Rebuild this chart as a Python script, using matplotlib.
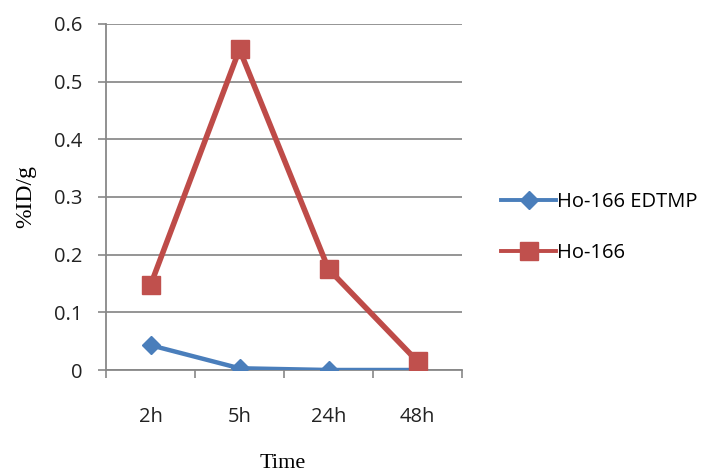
import matplotlib
matplotlib.use("Agg")
import matplotlib.pyplot as plt
from matplotlib.ticker import FixedLocator

categories = ["2h", "5h", "24h", "48h"]
edtmp = [0.043, 0.003, 0.0, 0.0]
ho166 = [0.147, 0.556, 0.175, 0.015]
series_names = ["Ho-166 EDTMP", "Ho-166"]
yticks = [0, 0.1, 0.2, 0.3, 0.4, 0.5, 0.6]
yticklabels = ["0", "0.1", "0.2", "0.3", "0.4", "0.5", "0.6"]

fig = plt.figure(figsize=(7.2, 4.75), dpi=100)
ax = fig.add_axes([106/720, 1-370/475, (462-106)/720, (370-24)/475])

x = list(range(len(categories)))
ax.plot(x, edtmp, color="#4A7EBB", lw=3.2, marker="D", ms=9.5,
        markerfacecolor="#4A7EBB", markeredgecolor="#4A7EBB", label=series_names[0], zorder=3)
ax.plot(x, ho166, color="#BE4B48", lw=4, marker="s", ms=13,
        markerfacecolor="#C0504D", markeredgecolor="#C0504D", label=series_names[1], zorder=3)

ax.set_xlim(-0.5, len(categories) - 0.5)
ax.set_ylim(0, 0.6)
ax.set_yticks(yticks)
ax.set_yticklabels(yticklabels)
ax.set_xticks(x)
ax.set_xticklabels(categories)
ax.xaxis.set_minor_locator(FixedLocator([-0.5, 0.5, 1.5, 2.5, 3.5]))
ax.tick_params(axis="x", which="major", length=0, pad=27, labelsize=14.5, labelcolor="#222222")
ax.tick_params(axis="x", which="minor", length=6, color="#888888", width=1.2)
ax.tick_params(axis="y", length=6, color="#888888", width=1.2, pad=11, labelsize=14.5, labelcolor="#222222")

ax.grid(axis="y", color="#8c8c8c", lw=1.3)
ax.set_axisbelow(True)
for s in ["top", "right"]:
    ax.spines[s].set_visible(False)
for s in ["left", "bottom"]:
    ax.spines[s].set_color("#888888")
    ax.spines[s].set_linewidth(1.3)

for lab in ax.get_xticklabels() + ax.get_yticklabels():
    lab.set_family("Open Sans")

ax.set_ylabel("%ID/g", family="Liberation Serif", fontsize=17, labelpad=13)
fig.text(283/720, 1-464/475, "Time", family="Liberation Serif", fontsize=16, ha="center", va="center")

leg = fig.legend(loc="center left", bbox_to_anchor=(501/720, 1-227.5/475), frameon=False,
                 prop={"family": "Open Sans", "size": 14.5}, handlelength=2.75, handletextpad=0.05,
                 labelspacing=1.5, borderpad=0, borderaxespad=0)
for ln in leg.get_lines():
    ln.set_linewidth(2.8)

fig.savefig("out.png", dpi=100)
